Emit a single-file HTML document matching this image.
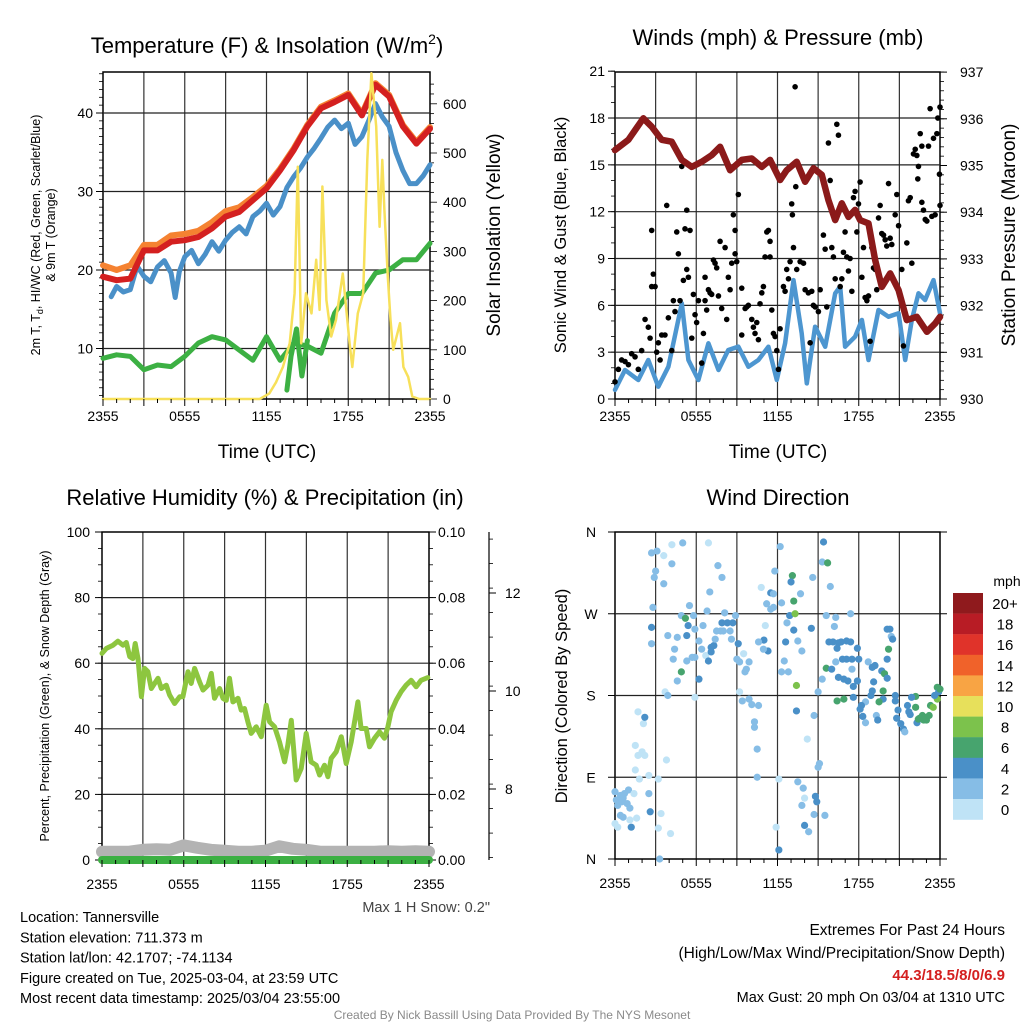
<!DOCTYPE html>
<html><head><meta charset="utf-8">
<style>
html,body{margin:0;padding:0;background:#fff;}
svg{display:block;font-family:"Liberation Sans",Arial,sans-serif;}
</style></head>
<body>
<svg id="c" width="1024" height="1024" viewBox="0 0 1024 1024" xmlns="http://www.w3.org/2000/svg"></svg>
<script>
// ---------- Panel 1: temperature & insolation ----------
const tHours = [0,1,2,3,4,5,6,7,8,9,10,11,12,13,14,15,16,17,18,19,20,21,22,23,24];
const redTemp = [19.15,18.7,18.9,22.5,22.5,23.6,23.8,24.2,25.3,26.8,27.4,28.9,30.4,32.7,35.3,38.3,40.6,41.4,42.3,39.7,43.6,42.1,38.3,36.1,38.0];
const orangeTemp = [20.6,20.0,20.6,23.2,23.2,24.4,24.6,25.0,26.1,27.5,28.0,29.3,30.7,32.9,35.5,38.5,40.8,41.6,42.5,39.9,43.8,42.3,38.5,36.3,38.2];
const blueHours = [0.6,1,1.5,2,2.5,3,3.5,4,4.5,5,5.3,5.6,6,6.5,7,7.5,8,8.5,9,9.5,10,10.5,11,11.5,12,12.5,13,13.5,14,14.5,15,15.5,16,16.5,17,17.5,18,18.5,19,19.5,20,20.5,21,21.5,22,22.5,23,23.5,24];
const blueTemp = [16.6,17.9,17.2,17.5,20.5,19.2,18.5,20.4,21.2,19.6,16.5,19.8,21.7,22.5,20.8,22.0,23.6,22.4,23.8,24.8,25.5,24.6,26.8,27.5,28.5,27.0,28.1,30.5,31.9,33.0,34.4,35.5,36.8,38.2,39.1,38.0,38.7,36.0,37.0,39.0,41.2,39.5,38.3,35.0,32.7,31.0,31.0,32.0,33.4];
const greenDew = [8.75,9.2,9.0,7.3,7.9,7.7,9.0,10.7,11.5,11.1,9.8,8.5,11.5,8.5,10.7,10.3,9.4,14.5,17.0,17.0,19.6,20.0,21.3,21.3,23.4];
const greenSpikeHours = [13.5,13.8,14.2,14.6,15.0];
const greenSpikeVals = [4.7,9.0,12.5,6.5,11.0];
const solarHours = [0,11.5,12.2,12.7,13.2,13.7,14.06,14.3,14.55,14.9,15.3,15.65,15.9,16.1,16.4,16.75,17.1,17.6,18.1,18.3,18.7,19.1,19.4,19.7,20.05,20.3,20.5,20.65,20.9,21.1,21.3,21.8,22.05,22.4,22.7,23.2,24];
const solarVals = [0,0,11,34,65,113,215,472,113,215,174,283,181,432,201,127,161,255,113,65,174,215,486,662,554,350,486,384,249,161,100,154,65,45,5,0,0];
const p1LeftTicks = [10,20,30,40];
const p1RightTicks = [0,100,200,300,400,500,600];
const timeTickLabels = ["2355","0555","1155","1755","2355"];
const timeTickHours = [0,6,12,18,24];

// ---------- Panel 2: winds & pressure ----------
const presHours = [0,0.99,2.09,2.71,3.45,4.19,4.93,5.67,6.4,7.14,7.76,8.5,9.36,10.1,10.84,11.45,12.19,12.68,13.42,14.04,14.66,15.27,15.76,16.26,16.75,17.24,17.73,18.1,18.72,19.21,19.7,20.32,20.94,21.55,22.29,23.03,23.65,24];
const presVals = [935.33,935.55,936.01,935.83,935.55,935.51,935.12,934.97,935.08,935.22,935.40,934.90,935.12,935.15,934.97,935.12,934.69,934.90,935.08,934.65,934.94,934.80,934.26,933.83,934.19,933.90,934.05,933.83,933.76,932.98,932.40,932.69,932.33,931.69,931.76,931.44,931.62,931.76];
const windHours = [0,0.74,1.72,2.46,3.2,3.94,4.93,5.42,6.16,6.9,7.64,8.37,9.11,9.85,10.59,11.33,11.95,12.56,13.18,13.79,14.16,14.78,15.52,16.26,16.63,16.99,17.73,18.23,18.72,19.46,20.2,20.94,21.43,21.92,22.41,22.9,23.52,24];
const windVals = [0.58,1.86,1.22,2.5,0.79,2.07,6.13,2.5,1.22,3.57,1.86,3.14,3.35,2.07,2.5,3.35,1.22,3.57,7.62,4.21,1.0,4.63,3.35,6.77,7.2,3.35,3.99,5.06,2.5,5.7,5.27,5.49,2.5,5.06,6.77,6.34,7.62,5.49];
const gustHours = [0,0.25,0.49,0.74,0.99,1.23,1.48,1.72,1.97,2.22,2.46,2.59,2.71,2.71,2.83,2.96,3.08,3.2,3.33,3.45,3.69,3.82,3.94,4.19,4.31,4.43,4.56,4.68,4.8,4.93,5.05,5.17,5.3,5.3,5.42,5.54,5.67,5.79,5.91,6.03,6.16,6.4,6.53,6.65,6.65,6.77,6.9,7.02,7.14,7.27,7.39,7.51,7.64,7.76,7.88,8.13,8.25,8.37,8.5,8.62,8.74,8.87,8.87,8.99,9.11,9.36,9.36,9.61,9.73,9.85,10.1,10.22,10.34,10.47,10.59,10.71,10.84,10.96,11.08,11.21,11.33,11.45,11.45,11.58,11.7,11.82,11.95,12.07,12.19,12.44,12.56,12.68,12.81,12.93,13.05,13.1,13.18,13.3,13.35,13.42,13.67,13.92,14.04,14.28,14.41,14.53,14.65,14.78,15.02,15.15,15.39,15.52,15.64,15.76,15.89,16.01,16.13,16.26,16.38,16.5,16.63,16.75,16.87,16.99,17.12,17.24,17.36,17.49,17.61,17.73,17.86,17.98,18.1,18.23,18.35,18.47,18.6,18.72,18.84,18.97,19.09,19.21,19.33,19.46,19.58,19.7,19.83,19.95,20.07,20.2,20.32,20.44,20.69,20.81,20.94,21.18,21.3,21.55,21.67,21.8,21.92,22.04,22.17,22.29,22.36,22.41,22.54,22.66,22.66,22.78,22.91,23.03,23.15,23.27,23.4,23.52,23.64,23.77,23.84,23.96,24.0,24.0];
const gustVals = [1.1,1.9,2.5,2.4,2.2,2.9,2.7,1.9,3.1,5.1,4.6,3.9,10.8,7.2,8.0,7.2,3.0,3.6,2.5,4.1,4.1,12.4,5.2,3.1,6.3,5.6,10.7,9.3,6.3,14.9,7.6,10.9,12.1,8.3,7.8,10.8,3.9,6.7,5.4,4.9,6.3,2.3,4.2,6.3,7.8,5.7,7.0,6.8,6.7,8.9,8.7,8.4,6.6,10.1,5.8,9.7,5.1,7.8,7.0,8.7,11.8,9.3,10.8,8.8,13.1,4.1,7.1,5.8,5.9,6.0,5.1,4.6,4.2,4.9,3.8,6.1,6.8,7.2,9.1,10.7,10.8,10.1,9.1,5.7,4.2,4.0,3.1,1.9,4.5,7.2,6.9,8.3,7.7,8.8,12.5,11.8,9.7,20.0,13.6,8.3,8.8,8.7,7.0,6.8,3.6,6.9,6.0,5.9,5.6,7.0,10.5,9.6,5.9,16.4,14.0,9.7,9.1,7.7,17.6,16.9,7.2,7.7,9.4,10.7,9.1,8.2,9.0,6.9,12.9,13.3,10.7,12.5,13.9,7.8,9.7,6.5,6.3,6.6,3.7,9.7,8.4,8.3,7.0,11.6,12.4,10.6,10.5,10.2,9.8,13.8,10.3,9.9,11.8,13.1,11.1,8.3,3.4,10.0,12.7,12.9,8.7,15.7,16.0,15.6,14.1,14.9,17.0,16.2,12.6,12.1,11.5,11.4,16.2,18.6,11.7,16.7,11.8,17.0,18.0,14.4,18.7,12.4];
const p2LeftTicks = [0,3,6,9,12,15,18,21];
const p2RightTicks = [930,931,932,933,934,935,936,937];

// ---------- Panel 3: humidity, precip, snow ----------
const rhHours = [0,0.32,0.81,1.17,1.54,1.78,2.03,2.27,2.44,2.64,2.89,3.13,3.37,3.62,4.11,4.35,4.72,4.96,5.33,5.7,5.94,6.31,6.55,6.8,7.16,7.41,7.78,8.02,8.26,8.63,8.88,9.12,9.36,9.61,9.98,10.22,10.46,10.71,10.95,11.32,11.69,12.05,12.3,12.67,13.03,13.4,13.64,13.89,14.25,14.62,14.99,15.35,15.72,15.97,16.33,16.58,16.82,17.19,17.56,17.92,18.29,18.78,19.02,19.39,19.63,20.0,20.37,20.73,20.98,21.22,21.59,21.95,22.32,22.69,23.06,23.42,23.91];
const rhVals = [63.0,64.5,65.5,66.7,65.5,66.3,62.0,61.4,66.0,61.4,49.8,58.4,57.4,52.3,55.4,52.3,53.3,50.3,47.7,49.8,49.8,57.4,53.8,58.4,54.3,51.8,53.3,56.9,49.3,52.3,49.3,48.7,55.4,48.2,49.3,45.7,46.2,42.1,38.6,40.6,37.6,47.2,42.1,40.6,36.0,29.9,35.0,42.6,24.4,27.9,38.6,29.9,28.9,25.9,28.9,25.4,31.0,33.0,37.6,29.4,36.0,48.2,40.1,40.1,34.5,37.1,39.1,37.1,40.6,45.2,48.7,51.3,53.3,54.8,52.8,54.8,55.6];
const precipHours = [0,24];
const precipVals = [0,0];
const snowHours = [0,1,2,3,4,5,6,7,8,9,10,11,12,13,14,15,16,17,18,19,20,21,22,23,24];
const snowVals = [6.72,6.72,6.72,6.76,6.77,6.76,6.85,6.8,6.76,6.74,6.72,6.72,6.74,6.83,6.78,6.76,6.72,6.72,6.72,6.72,6.72,6.73,6.72,6.73,6.72];
const p3LeftTicks = [0,20,40,60,80,100];
const p3RightTicks = ["0.00","0.02","0.04","0.06","0.08","0.10"];
const snowTicks = [8,10,12];

// ---------- Panel 4: wind direction ----------
const dirHours = [0,0.1,0.2,0.4,0.5,0.6,0.7,0.9,1.0,1.1,0.4,0.6,0,0.2,1.1,1.2,1.4,1.6,1.5,1.8,1.7,2.0,2.2,1.5,1.7,2.1,2.2,2.5,2.5,2.6,3.2,3.4,3.2,4.1,3.3,3.8,3.7,3.9,2.7,2.7,2.8,2.9,3.0,3.1,3.6,3.6,4.2,4.2,5.0,6.9,4.9,5.2,5.4,5.5,5.3,5.8,5.9,6.2,6.4,6.5,6.8,6.7,7.0,7.1,7.3,7.4,7.5,7.8,7.9,8.0,8.1,8.3,8.5,8.6,8.7,8.9,9.1,9.0,9.2,9.5,9.6,9.7,9.9,9.2,9.4,9.9,10.1,10.6,10.3,10.3,10.5,10.5,12.1,11.9,12.1,13.5,13.9,14.0,14.8,14.9,13.8,14.0,14.3,14.7,15.5,15.0,15.1,14.2,13.4,14.7,11.8,12.2,11.5,11.7,11.2,11.5,11.7,10.8,12.3,13.1,13.0,13.2,12.9,13.3,12.7,13.2,12.6,11.0,11.3,10.6,10.96,11.1,13.5,13.8,14.5,13.7,14.6,13.4,12.5,12.3,12.8,15.3,15.4,15.3,15.7,15.9,15.6,16.3,16.2,17.4,15.6,15.8,16.1,16.5,16.4,16.7,17.1,17.4,17.9,16.8,17.1,17.5,18.0,16.3,17.5,16.0,16.5,16.9,17.2,17.9,17.6,18.7,19.2,19.0,19.7,19.9,20.1,19.1,19.0,18.9,18.5,18.1,18.3,18.5,19.3,19.4,19.8,19.5,19.8,20.1,20.3,20.4,20.5,20.2,20.1,20.7,20.7,20.9,20.8,21.1,21.3,21.4,21.6,21.7,21.8,22.2,22.2,21.9,22.3,22.4,22.7,22.9,23.0,23.2,23.3,23.5,23.8,23.8,23.9,24.0,23.6,22.5,22.8,16.9,16.4,17.6,18.2,15.0,6.2,5.9,4.6,4.3,4.4,4.6,3.9,4.9,5.3,5.7,5.9,6.9,7.1,2.7,7.6,7.9];
const dirDegs = [74,65,59,70,63,67,72,61,76,56,48,46,39,35,43,35,72,45,98,88,114,118,114,125,162,149,156,92,72,52,88,50,34,28,0,109,184,180,237,255,277,310,317,339,334,303,346,325,348,348,268,265,257,279,246,268,253,240,231,257,273,224,294,233,235,242,251,251,260,251,271,260,251,242,260,268,237,220,217,226,206,209,217,184,174,176,170,169,151,145,121,90,88,35,10,85,78,67,69,63,59,37,30,49,48,101,105,132,163,158,317,344,293,292,281,275,277,299,282,312,305,284,268,270,260,252,239,241,229,239,231,257,240,229,254,292,310,191,218,206,206,198,349,327,326,300,268,266,256,270,210,239,239,238,232,239,240,239,232,220,220,220,220,217,209,209,200,198,196,196,190,217,213,211,207,204,199,195,185,180,173,165,157,150,158,153,176,173,185,253,253,245,242,231,220,180,174,164,155,149,143,140,169,162,159,179,167,178,150,154,158,156,153,158,169,167,176,189,184,187,180,155,153,176,174,178,169,184,198,178,196,220,231,244,246,206,218,222,222,218,228,337,323,310];
const dirSpeeds = [2.5,2.5,2.5,2.5,2.5,2.5,2.5,2.5,2.5,2.5,2.5,2.5,1,1,1,4.5,1,1,1,1,1,1,1,1,1,1,4.5,1,2.5,4.5,1,1,1,1,2.5,1,1,2.5,2.5,4.5,2.5,2.5,2.5,2.5,1,2.5,1,2.5,2.5,1,2.5,6.5,4.5,2.5,4.5,2.5,2.5,2.5,2.5,2.5,2.5,1,2.5,4.5,4.5,2.5,2.5,2.5,4.5,2.5,2.5,4.5,2.5,2.5,4.5,2.5,4.5,2.5,2.5,1,2.5,2.5,2.5,1,2.5,2.5,2.5,2.5,2.5,2.5,2.5,2.5,1,1,4.5,2.5,2.5,1,4.5,4.5,2.5,4.5,2.5,2.5,2.5,2.5,2.5,1,4.5,2.5,2.5,2.5,4.5,2.5,2.5,2.5,2.5,1,2.5,6.5,4.5,6.5,4.5,8.5,2.5,4.5,4.5,4.5,4.5,2.5,2.5,1,2.5,2.5,4.5,2.5,2.5,8.5,2.5,2.5,2.5,2.5,4.5,2.5,6.5,2.5,2.5,2.5,2.5,2.5,6.5,4.5,4.5,4.5,4.5,4.5,4.5,4.5,4.5,4.5,4.5,4.5,4.5,2.5,2.5,4.5,4.5,4.5,4.5,4.5,4.5,2.5,4.5,4.5,4.5,6.5,4.5,4.5,4.5,4.5,2.5,4.5,4.5,2.5,2.5,4.5,4.5,6.5,6.5,4.5,4.5,2.5,4.5,6.5,4.5,4.5,4.5,4.5,4.5,4.5,4.5,2.5,4.5,4.5,4.5,6.5,6.5,4.5,4.5,6.5,6.5,6.5,6.5,6.5,6.5,8.5,8.5,6.5,4.5,6.5,4.5,6.5,6.5,6.5,6.5,4.5,4.5,2.5,4.5,1,2.5,2.5,2.5,2.5,2.5,6.5,2.5,2.5,2.5,4.5,4.5,2.5,2.5,2.5];
const dirTickLabels = ["N","E","S","W","N"];
const dirTickDegs = [0,90,180,270,360];
const cbLabels = ["20+","18","16","14","12","10","8","6","4","2","0"];
const cbColors = ["#8f1a1d","#b81c25","#e0332a","#f0622a","#f8a444","#e7e05b","#7cc24c","#47a46e","#4a90c8","#86bde6","#bfe3f6"];

// ---------- drawing helpers ----------
const NS = "http://www.w3.org/2000/svg";
const svg = document.getElementById("c");
function mk(tag, attrs, parent) {
  const e = document.createElementNS(NS, tag);
  for (const k in attrs) e.setAttribute(k, attrs[k]);
  (parent || svg).appendChild(e);
  return e;
}
function txt(s, x, y, size, anchor, parent, extra) {
  const e = mk("text", Object.assign({x: x, y: y, "font-size": size, "text-anchor": anchor || "middle", fill: "#000"}, extra || {}), parent);
  e.textContent = s;
  return e;
}
function polyline(xs, ys, fx, fy, color, w, parent) {
  let d = "";
  for (let i = 0; i < xs.length; i++) d += (i ? "L" : "M") + fx(xs[i]).toFixed(1) + "," + fy(ys[i]).toFixed(1);
  return mk("path", {d: d, fill: "none", stroke: color, "stroke-width": w, "stroke-linejoin": "round", "stroke-linecap": "round"}, parent);
}
function frame(x0, y0, x1, y1, nv, nh, parent) {
  for (let i = 1; i < nv; i++) {
    const x = x0 + (x1 - x0) * i / nv;
    mk("line", {x1: x, y1: y0, x2: x, y2: y1, stroke: "#333", "stroke-width": 1.2}, parent);
  }
  mk("rect", {x: x0, y: y0, width: x1 - x0, height: y1 - y0, fill: "none", stroke: "#000", "stroke-width": 1.5}, parent);
}
function hgrid(x0, x1, y, parent) {
  mk("line", {x1: x0, y1: y, x2: x1, y2: y, stroke: "#222", "stroke-width": 1.2}, parent);
}
function timeAxis(x0, x1, yb, parent, off) {
  const fx = h => x0 + (x1 - x0) * h / 24;
  for (let h = 0; h <= 24; h++) {
    const len = (h % 3 === 0) ? 7 : 4;
    mk("line", {x1: fx(h), y1: yb, x2: fx(h), y2: yb + len, stroke: "#000", "stroke-width": 1}, parent);
  }
  for (let i = 0; i < timeTickLabels.length; i++) {
    const t = txt(timeTickLabels[i], fx(timeTickHours[i]), yb + (off || 22), 14, "middle", parent);
    
    
  }
}

// ================= Panel 1 =================
const g1 = mk("g", {});


const P1 = {x0: 103, x1: 430, y0: 72, y1: 399};
const p1x = h => P1.x0 + (P1.x1 - P1.x0) * h / 24;
const p1y = v => 113 - (v - 40) * 7.85;
const p1yr = w => 399 - w * 0.492;
frame(P1.x0, P1.y0, P1.x1, P1.y1, 8, 0, g1);
p1LeftTicks.forEach(v => {
  hgrid(P1.x0, P1.x1, p1y(v), g1);
  mk("line", {x1: P1.x0 - 7, y1: p1y(v), x2: P1.x0, y2: p1y(v), stroke: "#000"}, g1);
  const t = txt(String(v), P1.x0 - 10, p1y(v) + 5, 14, "end", g1);
  
  
});
for (let v = 4; v <= 45; v++) mk("line", {x1: P1.x0 - 4, y1: p1y(v), x2: P1.x0, y2: p1y(v), stroke: "#000", "stroke-width": 0.8}, g1);
for (let w = 0; w <= 640; w += 20) mk("line", {x1: P1.x1, y1: p1yr(w), x2: P1.x1 + (w % 100 === 0 ? 7 : 4), y2: p1yr(w), stroke: "#000", "stroke-width": 0.8}, g1);
p1RightTicks.forEach(w => {
  const t = txt(String(w), P1.x1 + 13, p1yr(w) + 5, 14, "start", g1);
  
  
});
const s1o = polyline(tHours, orangeTemp, p1x, p1y, "#f58231", 6, g1);


const s1b = polyline(blueHours, blueTemp, p1x, p1y, "#4a90c8", 5, g1);


const s1r = polyline(tHours, redTemp, p1x, p1y, "#d42020", 6, g1);


const s1g = polyline(tHours, greenDew, p1x, p1y, "#3cb043", 5, g1);


const s1g2 = polyline(greenSpikeHours, greenSpikeVals, p1x, p1y, "#3cb043", 5, g1);


const s1y = polyline(solarHours, solarVals, p1x, p1yr, "#f7e05a", 2.5, g1);


timeAxis(P1.x0, P1.x1, P1.y1, g1, 22);
</script>
<script>
(function(){
  const t1 = txt("", 267, 53, 22, "middle");
  t1.innerHTML = 'Temperature (F) &amp; Insolation (W/m<tspan dy="-9" font-size="14">2</tspan><tspan dy="9">)</tspan>';
  
  
  const x1 = txt("Time (UTC)", 267, 458, 19, "middle");
  
  
  const yl = txt("", 0, 0, 12.5, "middle", null, {transform: "translate(40,235) rotate(-90)"});
  yl.innerHTML = '2m T, T<tspan dy="3" font-size="9">d</tspan><tspan dy="-3">, HI/WC (Red, Green, Scarlet/Blue)</tspan>';
  
  
  const yl2 = txt("& 9m T (Orange)", 0, 0, 12.5, "middle", null, {transform: "translate(55,235) rotate(-90)"});
  
  
  const yr = txt("Solar Insolation (Yellow)", 0, 0, 19, "middle", null, {transform: "translate(500,235) rotate(-90)"});
  
  
})();

// ================= Panel 2 =================
const g2 = mk("g", {});


const P2 = {x0: 615, x1: 940, y0: 72, y1: 399};
const p2x = h => P2.x0 + (P2.x1 - P2.x0) * h / 24;
const p2y = v => 399 - v * 15.61;
const p2yr = p => 399 - (p - 930) * 46.7;
frame(P2.x0, P2.y0, P2.x1, P2.y1, 8, 0, g2);
p2LeftTicks.forEach(v => {
  if (v > 0 && v < 21) hgrid(P2.x0, P2.x1, p2y(v), g2);
  mk("line", {x1: P2.x0 - 7, y1: p2y(v), x2: P2.x0, y2: p2y(v), stroke: "#000"}, g2);
  const t = txt(String(v), P2.x0 - 10, p2y(v) + 5, 14, "end", g2);
  
  
});
for (let v = 0; v <= 21; v++) mk("line", {x1: P2.x0 - 4, y1: p2y(v), x2: P2.x0, y2: p2y(v), stroke: "#000", "stroke-width": 0.8}, g2);
for (let p = 930; p <= 937.001; p += 0.2) mk("line", {x1: P2.x1, y1: p2yr(p), x2: P2.x1 + 4, y2: p2yr(p), stroke: "#000", "stroke-width": 0.8}, g2);
p2RightTicks.forEach(p => {
  mk("line", {x1: P2.x1, y1: p2yr(p), x2: P2.x1 + 7, y2: p2yr(p), stroke: "#000"}, g2);
  const t = txt(String(p), P2.x1 + 20, p2yr(p) + 5, 14, "start", g2);
  
  
});
const s2w = polyline(windHours, windVals, p2x, p2y, "#4d96d0", 4.5, g2);


for (let i = 0; i < gustHours.length; i++) {
  const c = mk("circle", {cx: p2x(gustHours[i]), cy: p2y(gustVals[i]), r: 2.8, fill: "#000"}, g2);
  
  
}
const s2p = polyline(presHours, presVals, p2x, p2yr, "#8b1a1a", 6.5, g2);


timeAxis(P2.x0, P2.x1, P2.y1, g2, 22);
(function(){
  const t = txt("Winds (mph) & Pressure (mb)", 778, 45, 22, "middle");
  
  
  const x = txt("Time (UTC)", 778, 458, 19, "middle");
  
  
  const yl = txt("Sonic Wind & Gust (Blue, Black)", 0, 0, 16.5, "middle", null, {transform: "translate(566,235) rotate(-90)"});
  
  
  const yr = txt("Station Pressure (Maroon)", 0, 0, 19, "middle", null, {transform: "translate(1015,235) rotate(-90)"});
  
  
})();

// ================= Panel 3 =================
const g3 = mk("g", {});


const P3 = {x0: 102, x1: 429, y0: 532, y1: 860};
const p3x = h => P3.x0 + (P3.x1 - P3.x0) * h / 24;
const p3y = v => 860 - v * 3.28;
const p3yp = p => 860 - p * 3280;
const p3ys = s => 789 - (s - 8) * 49;
frame(P3.x0, P3.y0, P3.x1, P3.y1, 8, 0, g3);
p3LeftTicks.forEach((v, i) => {
  if (v > 0 && v < 100) hgrid(P3.x0, P3.x1, p3y(v), g3);
  mk("line", {x1: P3.x0 - 7, y1: p3y(v), x2: P3.x0, y2: p3y(v), stroke: "#000"}, g3);
  const t = txt(String(v), P3.x0 - 12, p3y(v) + 5, 14, "end", g3);
  
  
  mk("line", {x1: P3.x1, y1: p3y(v), x2: P3.x1 + 7, y2: p3y(v), stroke: "#000"}, g3);
  const r = txt(p3RightTicks[i], P3.x1 + 9, p3y(v) + 5, 14, "start", g3);
  
  
});
for (let v = 0; v <= 100; v += 5) {
  mk("line", {x1: P3.x0 - 4, y1: p3y(v), x2: P3.x0, y2: p3y(v), stroke: "#000", "stroke-width": 0.8}, g3);
  mk("line", {x1: P3.x1, y1: p3y(v), x2: P3.x1 + 4, y2: p3y(v), stroke: "#000", "stroke-width": 0.8}, g3);
}
mk("line", {x1: 489, y1: 532, x2: 489, y2: 860, stroke: "#000", "stroke-width": 1.2}, g3);
for (let s = 6.6; s <= 13.2; s += 0.5) mk("line", {x1: 489, y1: p3ys(s), x2: 493, y2: p3ys(s), stroke: "#000", "stroke-width": 0.8}, g3);
snowTicks.forEach(s => {
  mk("line", {x1: 489, y1: p3ys(s), x2: 496, y2: p3ys(s), stroke: "#000"}, g3);
  const t = txt(String(s), 505, p3ys(s) + 5, 14, "start", g3);
  
  
});
const s3s = polyline(snowHours, snowVals, p3x, p3ys, "#b3b3b3", 12, g3);


const s3p = polyline(precipHours, precipVals, p3x, p3yp, "#3cb043", 8, g3);


const s3h = polyline(rhHours, rhVals, p3x, p3y, "#8dc63f", 5, g3);


timeAxis(P3.x0, P3.x1, P3.y1, g3, 29);
(function(){
  const t = txt("Relative Humidity (%) & Precipitation (in)", 265, 505, 22, "middle");
  
  
  const yl = txt("Percent, Precipitation (Green), & Snow Depth (Gray)", 0, 0, 12.5, "middle", null, {transform: "translate(49,696) rotate(-90)"});
  
  
  const sn = txt('Max 1 H Snow: 0.2"', 490, 912, 14.5, "end", null, {fill: "#444"});
  
  
})();

// ================= Panel 4 =================
const g4 = mk("g", {});


const P4 = {x0: 615, x1: 940, y0: 532, y1: 859};
const p4x = h => P4.x0 + (P4.x1 - P4.x0) * h / 24;
const p4y = d => 859 - d * 0.9083;
frame(P4.x0, P4.y0, P4.x1, P4.y1, 8, 0, g4);
dirTickDegs.forEach((d, i) => {
  if (d > 0 && d < 360) hgrid(P4.x0, P4.x1, p4y(d), g4);
  mk("line", {x1: P4.x0 - 7, y1: p4y(d), x2: P4.x0, y2: p4y(d), stroke: "#000"}, g4);
  mk("line", {x1: P4.x1, y1: p4y(d), x2: P4.x1 + 7, y2: p4y(d), stroke: "#000"}, g4);
  const t = txt(dirTickLabels[i], P4.x0 - 24, p4y(d) + 5, 14, "middle", g4);
  
  
});
function speedColor(s) {
  let idx = Math.floor(s / 2);
  if (idx > 10) idx = 10;
  return cbColors[10 - idx];
}
for (let i = 0; i < dirHours.length; i++) {
  const c = mk("circle", {cx: p4x(dirHours[i]), cy: p4y(dirDegs[i]), r: 3.6, fill: speedColor(dirSpeeds[i])}, g4);
  
  
}
timeAxis(P4.x0, P4.x1, P4.y1, g4, 29);
const cb = mk("g", {});


for (let i = 0; i < cbColors.length; i++) {
  const r = mk("rect", {x: 953, y: 593 + i * 20.6, width: 30, height: 20.8, fill: cbColors[i]}, cb);
  
  
  const t = txt(cbLabels[i], 1005, 593 + i * 20.6 + 16, 15, "middle", cb);
  
  
}
(function(){
  const u = txt("mph", 1007, 586, 14, "middle", cb);
  
  
  const t = txt("Wind Direction", 778, 505, 22, "middle");
  
  
  const yl = txt("Direction (Colored By Speed)", 0, 0, 16.5, "middle", null, {transform: "translate(567,696) rotate(-90)"});
  
  
})();

// ================= Footer text =================
(function(){
  const lines = ["Location: Tannersville","Station elevation: 711.373 m","Station lat/lon: 42.1707; -74.1134","Figure created on Tue, 2025-03-04, at 23:59 UTC","Most recent data timestamp: 2025/03/04 23:55:00"];
  lines.forEach((s, i) => {
    const t = txt(s, 20, 922 + i * 20.3, 14.5, "start");
    
    
  });
  const e1 = txt("Extremes For Past 24 Hours", 1005, 935, 15.5, "end");
  
  
  const e2 = txt("(High/Low/Max Wind/Precipitation/Snow Depth)", 1005, 958, 15.5, "end");
  
  
  const e3 = txt("44.3/18.5/8/0/6.9", 1005, 980, 15, "end", null, {fill: "#d42020", "font-weight": "bold"});
  
  
  const e4 = txt("Max Gust: 20 mph On 03/04 at 1310 UTC", 1005, 1002, 14.5, "end");
  
  
  const f = txt("Created By Nick Bassill Using Data Provided By The NYS Mesonet", 512, 1019, 12, "middle", null, {fill: "#8a8a8a"});
  
  
})();
</script>
</body></html>
